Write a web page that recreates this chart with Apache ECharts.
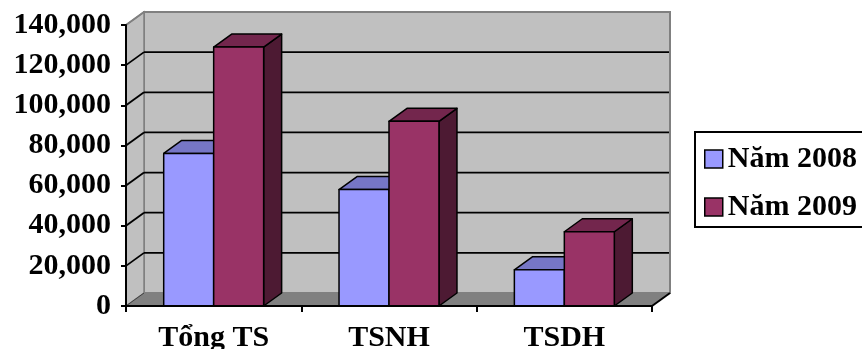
<!DOCTYPE html>
<html>
<head>
<meta charset="utf-8">
<script src="https://cdn.jsdelivr.net/npm/echarts@6/dist/echarts.min.js"></script>
<style>
  html, body { margin: 0; padding: 0; background: #fff; }
  #chart { width: 862px; height: 349px; }
</style>
</head>
<body>
<div id="chart"></div>
<script>
// Asset structure (total, short-term, long-term), two years
const categories = ['Tổng TS', 'TSNH', 'TSDH'];
const seriesNames = ['Năm 2008', 'Năm 2009'];
const values2008 = [76000, 58000, 18000];
const values2009 = [129000, 92000, 37000];
const yTickValues = [0, 20000, 40000, 60000, 80000, 100000, 120000, 140000];

// Pseudo-3D look
const DX = 18, DY = 13;          // depth offset of the back wall
const BAR_RATIO = 0.285;         // bar width as share of a category band
const FONT = '"Liberation Serif", "Times New Roman", serif';
const WALL = '#c0c0c0', FLOOR = '#808080', EDGE = '#808080';

const barColors = [
  { front: '#9999ff', top: '#7676c6', side: '#4d4d80' },
  { front: '#993366', top: '#73264d', side: '#4d1a33' }
];

const chart = echarts.init(document.getElementById('chart'));

// Back wall, side wall and floor, laid out from the grid's own coordinates
function renderWalls(params, api) {
  const cs = params.coordSys;
  const xl = cs.x, xr = cs.x + cs.width;
  const yTop = api.coord([0, yTickValues[yTickValues.length - 1]])[1];
  const yZero = api.coord([0, 0])[1];
  return {
    type: 'group',
    children: [
      { type: 'rect', shape: { x: xl + DX, y: yTop - DY, width: xr - xl, height: yZero - yTop },
        style: { fill: WALL, stroke: EDGE, lineWidth: 2 } },
      { type: 'polygon', shape: { points: [[xl, yTop], [xl + DX, yTop - DY], [xl + DX, yZero - DY], [xl, yZero]] },
        style: { fill: WALL, stroke: EDGE, lineWidth: 1.5 } },
      { type: 'polygon', shape: { points: [[xl, yZero], [xl + DX, yZero - DY], [xr + DX, yZero - DY], [xr, yZero]] },
        style: { fill: FLOOR, stroke: null } },
      { type: 'line', shape: { x1: xl, y1: yZero, x2: xl + DX, y2: yZero - DY },
        style: { stroke: '#404040', lineWidth: 1 } },
      { type: 'line', shape: { x1: xr, y1: yZero, x2: xr + DX, y2: yZero - DY },
        style: { stroke: '#000', lineWidth: 2 } }
    ]
  };
}

// Gridlines on the back wall plus their diagonals across the side wall
function renderGridLine(params, api) {
  const cs = params.coordSys;
  const v = api.value(1);
  const y = api.coord([0, v])[1];
  const xl = cs.x, xr = cs.x + cs.width;
  const isTop = v === yTickValues[yTickValues.length - 1];
  const children = [
    { type: 'line', shape: { x1: xl, y1: y, x2: xl + DX, y2: y - DY },
      style: { stroke: isTop ? EDGE : '#000', lineWidth: isTop ? 2 : 1.8 } }
  ];
  if (!isTop) {
    children.push({ type: 'line', shape: { x1: xl + DX, y1: y - DY, x2: xr + DX - 1, y2: y - DY },
      style: { stroke: '#000', lineWidth: 1.8 } });
  }
  return { type: 'group', children: children };
}

function barRenderer(sideIndex) {
  const c = barColors[sideIndex];
  return function (params, api) {
    const idx = api.value(0), v = api.value(1);
    const top = api.coord([idx, v]);
    const base = api.coord([idx, 0]);
    const w = api.size([1, 0])[0] * BAR_RATIO;
    const x0 = sideIndex === 0 ? top[0] - w : top[0];
    const x1 = x0 + w;
    const yT = top[1], yB = base[1];
    const stroke = { stroke: '#000', lineWidth: 1.5, lineJoin: 'round' };
    return {
      type: 'group',
      children: [
        { type: 'polygon', shape: { points: [[x1, yT], [x1 + DX, yT - DY], [x1 + DX, yB - DY], [x1, yB]] },
          style: Object.assign({ fill: c.side }, stroke) },
        { type: 'polygon', shape: { points: [[x0, yT], [x0 + DX, yT - DY], [x1 + DX, yT - DY], [x1, yT]] },
          style: Object.assign({ fill: c.top }, stroke) },
        { type: 'rect', shape: { x: x0, y: yT, width: w, height: yB - yT },
          style: Object.assign({ fill: c.front }, stroke) }
      ]
    };
  };
}

const gridData = yTickValues.slice(1).map(v => [0, v]);

chart.setOption({
  animation: false,
  backgroundColor: '#fff',
  grid: { left: 126, top: 25, right: 210, bottom: 43, containLabel: false, outerBoundsMode: 'none' },
  xAxis: {
    type: 'category',
    data: categories,
    boundaryGap: true,
    z: 5,
    axisLine: { show: true, lineStyle: { color: '#000', width: 2 } },
    axisTick: { show: true, length: 6, lineStyle: { color: '#000', width: 2 } },
    axisLabel: { color: '#000', fontFamily: FONT, fontWeight: 'bold', fontSize: 30, margin: 17 },
    splitLine: { show: false }
  },
  yAxis: {
    type: 'value',
    min: 0,
    max: 140000,
    interval: 20000,
    z: 5,
    axisLine: { show: true, lineStyle: { color: '#000', width: 2 } },
    axisTick: { show: true, length: 5, lineStyle: { color: '#000', width: 2 } },
    axisLabel: {
      color: '#000', fontFamily: FONT, fontWeight: 'bold', fontSize: 30, margin: 15,
      formatter: v => v.toLocaleString('en-US')
    },
    splitLine: { show: false }
  },
  legend: {
    data: seriesNames,
    orient: 'vertical',
    left: 695,
    top: 132,
    padding: [12, 24, 5, 9],
    itemGap: 18,
    itemWidth: 18,
    itemHeight: 18,
    itemTextGap: 14,
    icon: 'rect',
    borderColor: '#000',
    borderWidth: 2,
    itemStyle: { borderColor: '#000', borderWidth: 1.5 },
    textStyle: { color: '#000', fontFamily: FONT, fontWeight: 'bold', fontSize: 30 }
  },
  series: [
    { type: 'custom', z: 1, silent: true, renderItem: renderWalls, data: [[0, 0]] },
    { type: 'custom', z: 1, silent: true, renderItem: renderGridLine, data: gridData },
    { type: 'custom', name: seriesNames[0], z: 3, itemStyle: { color: barColors[0].front },
      renderItem: barRenderer(0), data: values2008.map((v, i) => [i, v]) },
    { type: 'custom', name: seriesNames[1], z: 3, itemStyle: { color: barColors[1].front },
      renderItem: barRenderer(1), data: values2009.map((v, i) => [i, v]) }
  ]
});
</script>
</body>
</html>
